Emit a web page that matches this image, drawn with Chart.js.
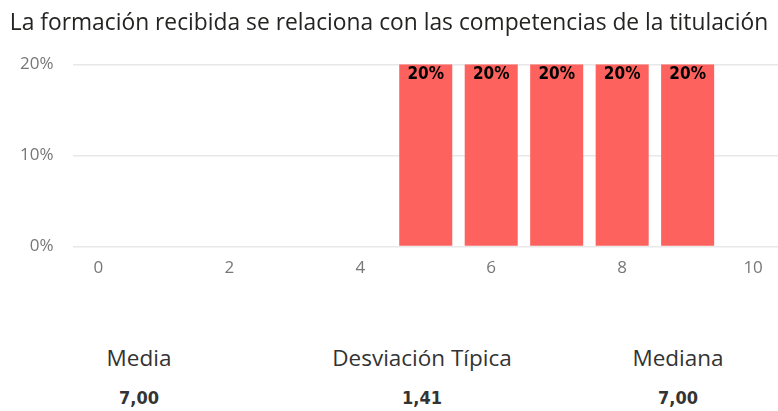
<!DOCTYPE html>
<html lang="es">
<head>
    <meta charset="UTF-8">
    <title>La formación recibida se relaciona con las competencias de la titulación</title>
    <script src="https://cdn.jsdelivr.net/npm/chart.js"></script>
    <style>
        body { margin: 0; width: 778px; height: 411px; background: #fff; position: relative; overflow: hidden; }
        #box { position: absolute; left: 0; top: 0; width: 778px; height: 297px; }
        .stat { position: absolute; width: 260px; text-align: center; color: #333; }
        .stat .lbl { font-family: "Open Sans", "Noto Sans", sans-serif; font-size: 22.5px; position: absolute; top: 342px; width: 100%; }
        .stat .val { font-family: "DejaVu Sans Condensed", "DejaVu Sans", sans-serif; font-weight: bold; font-size: 18px; position: absolute; top: 387px; width: 100%; }
    </style>
</head>
<body>
    <div id="box"><canvas id="chart"></canvas></div>
    <div id="stats"></div>

    <script>
        // data
        const title = 'La formación recibida se relaciona con las competencias de la titulación';
        const scores = [0, 1, 2, 3, 4, 5, 6, 7, 8, 9, 10];
        const percents = [0, 0, 0, 0, 0, 20, 20, 20, 20, 20, 0];
        const statNames = ['Media', 'Desviación Típica', 'Mediana'];
        const statValues = ['7,00', '1,41', '7,00'];
        const statCenters = [139, 422, 678];

        // stats under the chart
        const stats = document.getElementById('stats');
        statNames.forEach((name, i) => {
            const d = document.createElement('div');
            d.className = 'stat';
            d.style.left = (statCenters[i] - 130) + 'px';
            d.innerHTML = '<div class="lbl">' + name + '</div><div class="val">' + statValues[i] + '</div>';
            stats.appendChild(d);
        });

        // labels inside the top of each bar
        const barLabels = {
            id: 'barLabels',
            afterDatasetsDraw(chart) {
                const ctx = chart.ctx;
                const meta = chart.getDatasetMeta(0);
                ctx.save();
                ctx.font = 'bold 17px "DejaVu Sans Condensed", "DejaVu Sans", sans-serif';
                ctx.fillStyle = '#000';
                ctx.textAlign = 'center';
                ctx.textBaseline = 'top';
                meta.data.forEach((bar, i) => {
                    if (!percents[i]) return;
                    ctx.fillText(percents[i] + '%', bar.x, bar.y + 2);
                });
                ctx.restore();
            }
        };

        const tickFont = { family: '"Open Sans", "Noto Sans", sans-serif', size: 17 };

        const ctx = document.getElementById('chart').getContext('2d');
        new Chart(ctx, {
            type: 'bar',
            data: {
                datasets: [{
                    data: scores.map((s, i) => ({ x: s, y: percents[i] })),
                    backgroundColor: '#fd625e',
                    categoryPercentage: 1,
                    barPercentage: 0.81
                }]
            },
            options: {
                responsive: true,
                maintainAspectRatio: false,
                animation: false,
                layout: { padding: { left: 0, right: 0, bottom: 8 } },
                plugins: {
                    legend: { display: false },
                    tooltip: { enabled: false },
                    title: {
                        display: true,
                        text: title,
                        color: '#252423',
                        font: { family: '"Open Sans", "Noto Sans", sans-serif', size: 22.8, weight: 'normal' },
                        padding: { top: 10, bottom: 27 }
                    }
                },
                scales: {
                    x: {
                        type: 'linear',
                        offset: false,
                        min: -0.38,
                        max: 10.38,
                        grid: { display: false, drawTicks: false },
                        border: { display: false },
                        ticks: {
                            stepSize: 2,
                            includeBounds: false,
                            padding: 11,
                            color: '#777',
                            font: tickFont
                        }
                    },
                    y: {
                        min: 0,
                        max: 20,
                        grid: { color: '#e8e8e8', lineWidth: 1.5, drawTicks: false },
                        border: { display: false },
                        ticks: {
                            stepSize: 10,
                            padding: 20,
                            color: '#777',
                            font: tickFont,
                            callback: v => v + '%'
                        }
                    }
                }
            },
            plugins: [barLabels]
        });
    </script>
</body>
</html>
